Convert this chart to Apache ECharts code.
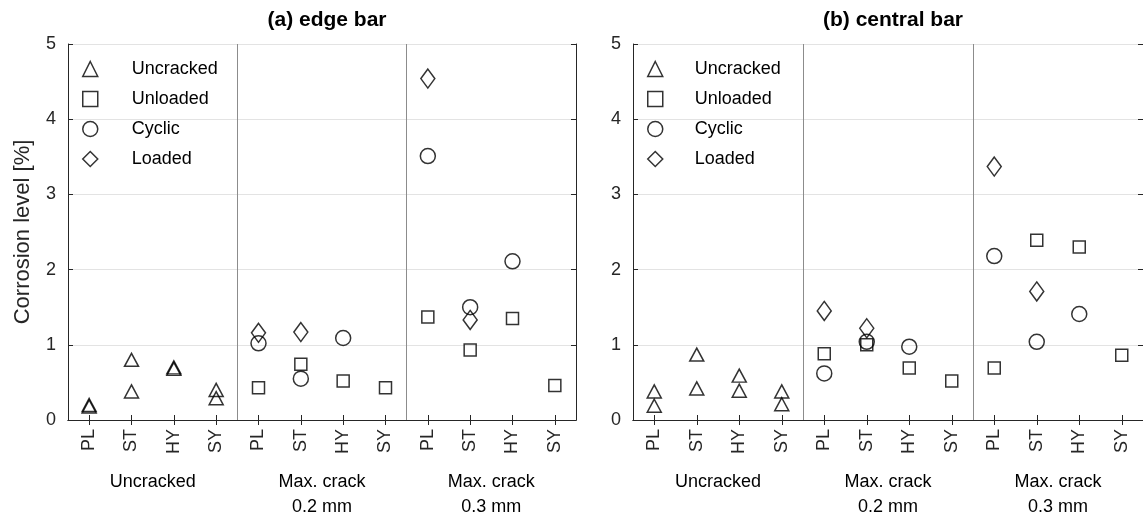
<!DOCTYPE html>
<html>
<head>
<meta charset="utf-8">
<script src="https://cdn.jsdelivr.net/npm/echarts@6/dist/echarts.min.js"></script>
<style>
  html, body { margin: 0; padding: 0; background: #fff; }
  #chart { width: 1143px; height: 523px; }
</style>
</head>
<body>
<div id="chart"></div>
<script>
// categories
const cats = ['PL', 'ST', 'HY', 'SY', 'PL', 'ST', 'HY', 'SY', 'PL', 'ST', 'HY', 'SY'];
const groups = ['Uncracked', 'Max. crack\n0.2 mm', 'Max. crack\n0.3 mm'];
const yTicks = [0, 1, 2, 3, 4, 5];

// (a) edge bar  -- uncracked has two specimens per type
const edgeUncrackedA = [0.20, 0.80, 0.70, 0.40];
const edgeUncrackedB = [0.18, 0.38, 0.68, 0.29];
const edgeUnloaded = [null, null, null, null, 0.43, 0.74, 0.52, 0.43, 1.37, 0.93, 1.35, 0.46];
const edgeCyclic   = [null, null, null, null, 1.02, 0.55, 1.09, null, 3.51, 1.50, 2.11, null];
const edgeLoaded   = [null, null, null, null, 1.16, 1.17, null, null, 4.54, 1.33, null, null];

// (b) central bar
const centUncrackedA = [0.38, 0.87, 0.59, 0.38];
const centUncrackedB = [0.19, 0.42, 0.39, 0.21];
const centUnloaded = [null, null, null, null, 0.88, 1.00, 0.69, 0.52, 0.69, 2.39, 2.30, 0.86];
const centCyclic   = [null, null, null, null, 0.62, 1.04, 0.975, null, 2.18, 1.04, 1.41, null];
const centLoaded   = [null, null, null, null, 1.45, 1.22, null, null, 3.37, 1.71, null, null];

const FONT = 'Liberation Sans, Arial, sans-serif';
const INK = '#262626';

const hollow = { color: 'rgba(255,255,255,0)', borderColor: '#000', borderWidth: 1.5 };

function pairs(a) {
  return a.map((v, i) => v == null ? null : [i, v]).filter(p => p);
}

function panelSeries(g, ua, ub, unl, cyc, lod) {
  return [
    { name: 'Uncracked', type: 'scatter', xAxisIndex: g * 3, yAxisIndex: g * 2,
      symbol: 'triangle', symbolSize: [14, 13], itemStyle: hollow,
      data: pairs(ua).concat(pairs(ub)) },
    { name: 'Unloaded', type: 'scatter', xAxisIndex: g * 3, yAxisIndex: g * 2,
      symbol: 'rect', symbolSize: 12, itemStyle: hollow, data: pairs(unl) },
    { name: 'Cyclic', type: 'scatter', xAxisIndex: g * 3, yAxisIndex: g * 2,
      symbol: 'circle', symbolSize: 15, itemStyle: hollow, data: pairs(cyc) },
    { name: 'Loaded', type: 'scatter', xAxisIndex: g * 3, yAxisIndex: g * 2,
      symbol: 'diamond', symbolSize: [14, 19], itemStyle: hollow, data: pairs(lod) }
  ];
}

function xAxes(g) {
  return [
    { type: 'category', gridIndex: g, data: cats, position: 'bottom',
      axisLine: { lineStyle: { color: INK, width: 1 } },
      axisTick: { show: true, interval: 0, inside: true, alignWithLabel: true, length: 5,
        lineStyle: { color: INK } },
      axisLabel: { interval: 0, rotate: 90, margin: 9, fontSize: 18, color: INK, fontFamily: FONT },
      splitLine: { show: true, interval: (i) => i === 4 || i === 8,
        lineStyle: { color: '#8c8c8c', width: 1 } } },
    { type: 'category', gridIndex: g, data: cats, position: 'top',
      axisLine: { lineStyle: { color: INK, width: 1 } },
      axisTick: { show: true, interval: 0, inside: true, alignWithLabel: true, length: 5,
        lineStyle: { color: INK } },
      axisLabel: { show: false }, splitLine: { show: false } },
    { type: 'category', gridIndex: g, data: groups, position: 'bottom',
      axisLine: { show: false }, axisTick: { show: false },
      axisLabel: { interval: 0, margin: 50, fontSize: 18, lineHeight: 25, color: '#000', fontFamily: FONT } }
  ];
}

function yAxes(g) {
  return [
    { type: 'value', gridIndex: g, min: yTicks[0], max: yTicks[yTicks.length - 1], interval: 1,
      position: 'left',
      name: g === 0 ? 'Corrosion level [%]' : '', nameLocation: 'middle', nameGap: 34,
      nameTextStyle: { fontSize: 22, color: INK, fontFamily: FONT },
      axisLine: { show: true, lineStyle: { color: INK, width: 1 } },
      axisTick: { show: true, inside: true, length: 5, lineStyle: { color: INK } },
      axisLabel: { fontSize: 18, color: INK, margin: 12, fontFamily: FONT },
      splitLine: { show: true, lineStyle: { color: '#e3e3e3', width: 1 } } },
    { type: 'value', gridIndex: g, min: yTicks[0], max: yTicks[yTicks.length - 1], interval: 1,
      position: 'right',
      axisLine: { show: true, lineStyle: { color: INK, width: 1 } },
      axisTick: { show: true, inside: true, length: 5, lineStyle: { color: INK } },
      axisLabel: { show: false }, splitLine: { show: false } }
  ];
}

function legendFor(left, pad) {
  return {
    orient: 'vertical', left: left, top: 55,
    data: ['Uncracked', 'Unloaded', 'Cyclic', 'Loaded'],
    itemWidth: 15, itemHeight: 15, itemGap: 12,
    itemStyle: { color: 'rgba(255,255,255,0)', borderColor: '#000', borderWidth: 1.5 },
    textStyle: { fontSize: 18, lineHeight: 18, color: '#000', fontFamily: FONT, padding: [0, 0, 0, pad] },
    selectedMode: false
  };
}

const chart = echarts.init(document.getElementById('chart'));
chart.setOption({
  animation: false,
  title: [
    { text: '(a) edge bar', left: 322, top: 5, textAlign: 'center',
      textStyle: { fontSize: 21, fontWeight: 'bold', color: '#000', fontFamily: FONT } },
    { text: '(b) central bar', left: 888, top: 5, textAlign: 'center',
      textStyle: { fontSize: 21, fontWeight: 'bold', color: '#000', fontFamily: FONT } }
  ],
  legend: [legendFor(77, 29), legendFor(642, 27)],
  grid: [
    { left: 68, top: 44, width: 508, height: 376 },
    { left: 633, top: 44, width: 511, height: 376 }
  ],
  xAxis: xAxes(0).concat(xAxes(1)),
  yAxis: yAxes(0).concat(yAxes(1)),
  series: panelSeries(0, edgeUncrackedA, edgeUncrackedB, edgeUnloaded, edgeCyclic, edgeLoaded)
    .concat(panelSeries(1, centUncrackedA, centUncrackedB, centUnloaded, centCyclic, centLoaded))
});
</script>
</body>
</html>
